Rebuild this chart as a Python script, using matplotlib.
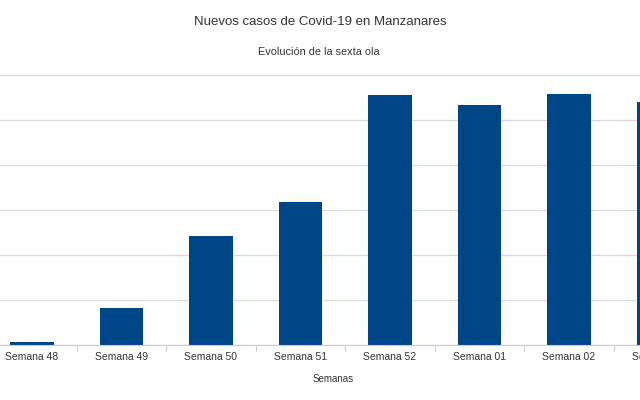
import matplotlib
matplotlib.use("Agg")
import matplotlib.pyplot as plt

semanas = ["Semana 48", "Semana 49", "Semana 50", "Semana 51", "Semana 52",
           "Semana 01", "Semana 02", "Semana 03"]
casos = [3, 41, 121, 159, 278, 267, 279, 270]

title = "Nuevos casos de Covid-19 en Manzanares"
subtitle = "Evolución de la sexta ola"
xlabel = "Semanas"

plt.rcParams['font.family'] = ['Liberation Sans', 'DejaVu Sans']
W, H = 640, 400
fig = plt.figure(figsize=(6.4, 4.0), dpi=100)
slot = 89.5
left_px = 32 - slot / 2
n = len(semanas)
ax = fig.add_axes([left_px / W, (H - 345) / H, n * slot / W, 270 / H])

x = list(range(n))
ax.bar(x, casos, width=0.49, color="#004586", zorder=3)
ax.set_xlim(-0.5, n - 0.5)
ax.set_ylim(0, 300)
ax.set_yticks([0, 50, 100, 150, 200, 250, 300])
ax.yaxis.grid(True, color="#dcdcdc", linewidth=1.0, zorder=0)
ax.tick_params(axis='y', left=False, labelleft=False)
ax.set_xticks(x)
ax.set_xticklabels(semanas, fontsize=7.5, color="#333333")
ax.tick_params(axis='x', length=0, pad=5)
ax.set_xticks([i + 0.5 for i in range(n - 1)], minor=True)
ax.tick_params(axis='x', which='minor', length=4, color="#cccccc", width=0.8)
for s in ["top", "right", "left"]:
    ax.spines[s].set_visible(False)
ax.spines["bottom"].set_color("#cccccc")
ax.spines["bottom"].set_zorder(4)

fig.text(320 / W, 1 - 22 / H, title, ha="center", va="center", fontsize=9.5, color="#333333")
fig.text(319 / W, 1 - 52 / H, subtitle, ha="center", va="center", fontsize=7.8, color="#333333")
fig.text(333 / W, 1 - 379 / H, xlabel, ha="center", va="center", fontsize=7, color="#333333")

fig.savefig("out.png", dpi=100)
